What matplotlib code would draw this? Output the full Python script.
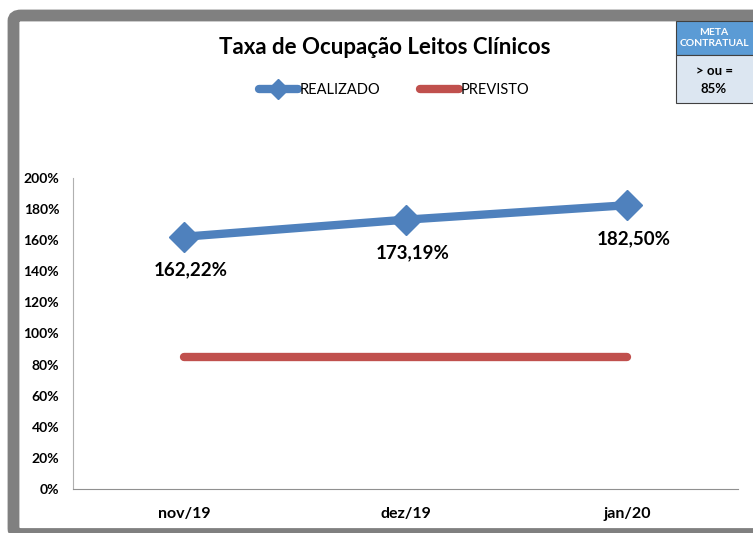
import matplotlib.pyplot as plt
from matplotlib.patches import FancyBboxPatch, Rectangle
from matplotlib.ticker import FuncFormatter

plt.rcParams['font.family'] = ['Lato', 'DejaVu Sans']

meses = ["nov/19", "dez/19", "jan/20"]
realizado = [162.22, 173.19, 182.50]
previsto = [85, 85, 85]
rotulos = ["162,22%", "173,19%", "182,50%"]

azul = "#4F81BD"
vermelho = "#C0504D"

fig = plt.figure(figsize=(7.53, 5.33), dpi=100)
W, H = 753, 533

# moldura cinza
fig.patches.append(FancyBboxPatch((13.5 / W, -1 / H), 800 / W, (533 - 15.5 + 1) / H,
                                  boxstyle="round,pad=0,rounding_size=0.01",
                                  transform=fig.transFigure, facecolor="white",
                                  edgecolor="#808080", linewidth=8.5, zorder=-1))

ax = fig.add_axes([73 / W, 1 - 489 / H, (738 - 73) / W, (489 - 178) / H])
ax.set_zorder(1)
ax.patch.set_visible(False)
x = range(len(meses))
ax.plot(x, realizado, color=azul, linewidth=6, marker="D", markersize=15,
        markerfacecolor=azul, markeredgecolor=azul, solid_capstyle="round",
        label="REALIZADO", zorder=3)
ax.plot(x, previsto, color=vermelho, linewidth=6, solid_capstyle="round",
        label="PREVISTO", zorder=2)

for i, (v, t) in enumerate(zip(realizado, rotulos)):
    ax.annotate(t, (i, v), xytext=(5, -24), textcoords="offset points",
                ha="center", va="center", fontsize=13.5, fontweight="bold")

ax.set_xlim(-0.5, 2.5)
ax.set_ylim(0, 200)
ax.set_yticks(range(0, 201, 20))
ax.yaxis.set_major_formatter(FuncFormatter(lambda v, p: f"{int(v)}%"))
ax.set_xticks(list(x))
ax.set_xticklabels(meses)
for lb in ax.get_yticklabels():
    lb.set_fontweight("bold")
    lb.set_fontsize(10)
for lb in ax.get_xticklabels():
    lb.set_fontweight("bold")
    lb.set_fontsize(11.5)
ax.tick_params(axis="y", length=0, pad=10)
ax.tick_params(axis="x", length=0, pad=13)
for s in ["top", "right"]:
    ax.spines[s].set_visible(False)
ax.spines["left"].set_color("#B0B0B0")
ax.spines["bottom"].set_color("#909090")

fig.text(385 / W, 1 - 47 / H, "Taxa de Ocupação Leitos Clínicos", ha="center",
         va="center", fontsize=16, fontweight="bold")

fig.legend(loc="center", bbox_to_anchor=(394 / W, 1 - 90 / H), ncol=2,
           frameon=False, fontsize=10.5, handlelength=2.7, handletextpad=0.1,
           columnspacing=2.7, markerscale=0.65)

# caixa META CONTRATUAL
fig.patches.append(Rectangle((676 / W, 1 - 55 / H), 80 / W, 34 / H,
                             transform=fig.transFigure, facecolor="#5B9BD5",
                             edgecolor="#404040", linewidth=0.8, zorder=5))
fig.patches.append(Rectangle((676 / W, 1 - 103 / H), 80 / W, 48 / H,
                             transform=fig.transFigure, facecolor="#DCE6F1",
                             edgecolor="#404040", linewidth=0.8, zorder=5))
fig.text(714 / W, 1 - 38 / H, "META\nCONTRATUAL", ha="center", va="center",
         fontsize=7.5, fontweight="bold", color="white", linespacing=1.4, zorder=6)
fig.text(714 / W, 1 - 80 / H, "> ou =\n85%", ha="center", va="center",
         fontsize=9.5, fontweight="bold", color="black", linespacing=1.6, zorder=6)

fig.savefig("out.png", dpi=100)
